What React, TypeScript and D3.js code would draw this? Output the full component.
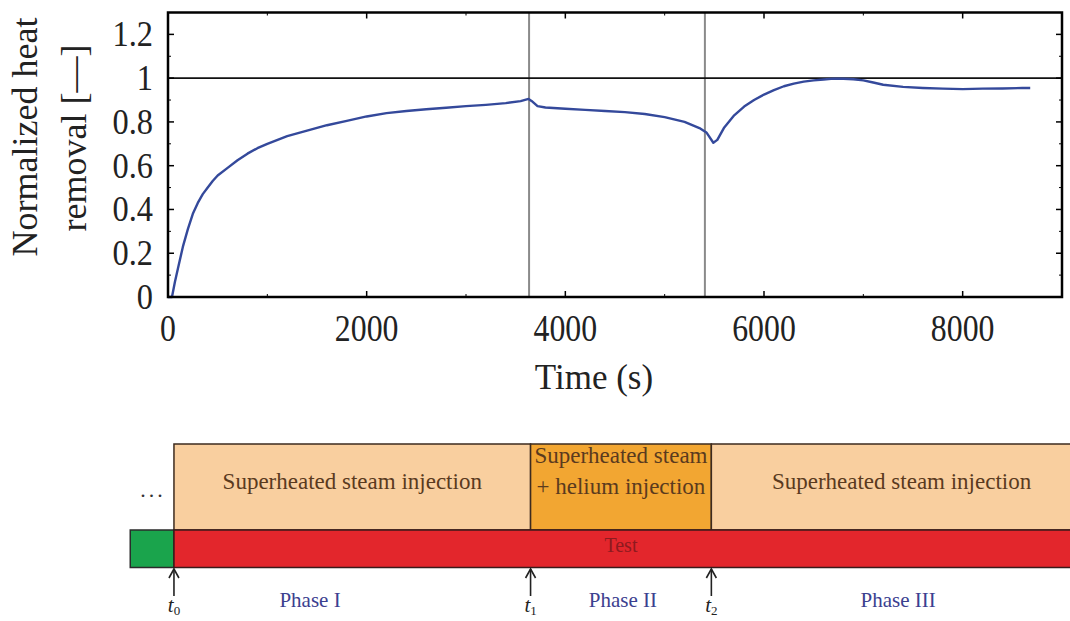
import React from 'react';
import * as d3 from 'd3';

const timeS = [
  0, 40, 70, 100, 150, 200, 250, 300, 350, 400, 450, 500, 600, 700, 800, 900, 1000,
  1200, 1400, 1600, 1800, 2000, 2200, 2400, 2600, 2800, 3000, 3200, 3400, 3550, 3630,
  3660, 3720, 3800, 4000, 4200, 4400, 4600, 4800, 5000, 5200, 5350, 5420, 5490, 5530,
  5600, 5700, 5800, 5900, 6000, 6100, 6200, 6300, 6400, 6500, 6600, 6700, 6800, 6900,
  7000, 7100, 7200, 7400, 7600, 7800, 8000, 8200, 8400, 8600, 8680,
];
const heatRemoval = [
  0, 0, 0.07, 0.13, 0.23, 0.31, 0.38, 0.43, 0.47, 0.5, 0.53, 0.555, 0.59, 0.625, 0.655, 0.68, 0.7,
  0.735, 0.76, 0.785, 0.805, 0.825, 0.84, 0.85, 0.858, 0.865, 0.872, 0.878, 0.886, 0.895, 0.905,
  0.896, 0.872, 0.866, 0.86, 0.855, 0.85, 0.845, 0.836, 0.822, 0.8, 0.772, 0.752, 0.705, 0.718,
  0.775, 0.83, 0.87, 0.9, 0.925, 0.945, 0.963, 0.975, 0.984, 0.99, 0.994, 0.998, 0.997, 0.995,
  0.99, 0.98, 0.97, 0.96, 0.955, 0.952, 0.95, 0.952, 0.953, 0.955, 0.955,
];

const xTicks = [0, 2000, 4000, 6000, 8000];
const yTicks = [0, 0.2, 0.4, 0.6, 0.8, 1, 1.2];
const markerTimes = [3635, 5405];

// timeline below the chart
const preTestStart = -380;
const boundaryTimes = [60, 3650, 5470];
const timelineEnd = 9300;
const boundaryNames = ['0', '1', '2'];
const injectionLabels = [
  ['Superheated steam injection'],
  ['Superheated steam', '+ helium injection'],
  ['Superheated steam injection'],
];
const injectionColors = ['#f9cf9f', '#f2a632', '#f9cf9f'];
const phaseNames = ['Phase I', 'Phase II', 'Phase III'];
const phaseLabelTimes = [1430, 4580, 7350];

const serif = '"Liberation Serif", "Times New Roman", serif';

const App: React.FC = () => {
  const width = 1070;
  const height = 621;
  const m = { left: 168, right: 1062, top: 12.5, bottom: 297 };

  const x = d3.scaleLinear().domain([0, 9000]).range([m.left, m.right]);
  const y = d3.scaleLinear().domain([0, 1.3]).range([m.bottom, m.top]);

  const points = timeS.map((t, i) => [t, heatRemoval[i]] as [number, number]);
  const line = d3.line<[number, number]>().x(d => x(d[0])).y(d => y(d[1]));

  const xMinor = d3.range(0, 9001, 1000).filter(v => v % 2000 !== 0);
  const yMinor = d3.range(0, 13).map(v => v / 10).filter(v => Math.round(v * 10) % 2 !== 0);

  const boxTop = 444;
  const boxBottom = 530;
  const barBottom = 567.5;
  const segEdges = [...boundaryTimes, timelineEnd];

  return (
    <svg width={width} height={height} style={{ position: 'absolute', left: 0, top: 0, background: '#fff' }}>
      {/* gray event lines */}
      {markerTimes.map(t => (
        <line key={t} x1={x(t)} x2={x(t)} y1={m.top} y2={m.bottom} stroke="#8a8a8a" strokeWidth={2} />
      ))}
      {/* reference line at 1 */}
      <line x1={m.left} x2={m.right} y1={y(1)} y2={y(1)} stroke="#111" strokeWidth={1.6} />

      <path d={line(points) ?? ''} fill="none" stroke="#34499b" strokeWidth={2.4} strokeLinejoin="round" />

      {/* ticks, mirrored inward */}
      {xTicks.map(t => (
        <g key={'xt' + t}>
          <line x1={x(t)} x2={x(t)} y1={m.bottom} y2={m.bottom - 6} stroke="#000" strokeWidth={1.5} />
          <line x1={x(t)} x2={x(t)} y1={m.top} y2={m.top + 6} stroke="#000" strokeWidth={1.5} />
          <text transform={`translate(${x(t)},341) scale(0.86,1)`} textAnchor="middle" fontFamily={serif} fontSize={37} fill="#222">
            {t}
          </text>
        </g>
      ))}
      {xMinor.map(t => (
        <g key={'xm' + t}>
          <line x1={x(t)} x2={x(t)} y1={m.bottom} y2={m.bottom - 3} stroke="#000" strokeWidth={1} />
          <line x1={x(t)} x2={x(t)} y1={m.top} y2={m.top + 3} stroke="#000" strokeWidth={1} />
        </g>
      ))}
      {yTicks.map(v => (
        <g key={'yt' + v}>
          <line x1={m.left} x2={m.left + 6} y1={y(v)} y2={y(v)} stroke="#000" strokeWidth={1.5} />
          <line x1={m.right} x2={m.right - 6} y1={y(v)} y2={y(v)} stroke="#000" strokeWidth={1.5} />
          <text transform={`translate(153,${y(v) + 12}) scale(0.9,1)`} textAnchor="end" fontFamily={serif} fontSize={36} fill="#222">
            {d3.format('~g')(v)}
          </text>
        </g>
      ))}
      {yMinor.map(v => (
        <g key={'ym' + v}>
          <line x1={m.left} x2={m.left + 3} y1={y(v)} y2={y(v)} stroke="#000" strokeWidth={1} />
          <line x1={m.right} x2={m.right - 3} y1={y(v)} y2={y(v)} stroke="#000" strokeWidth={1} />
        </g>
      ))}

      <rect x={m.left} y={m.top} width={m.right - m.left} height={m.bottom - m.top} fill="none" stroke="#000" strokeWidth={2.5} />

      {/* axis titles */}
      <text transform="translate(37,137) rotate(-90)" textAnchor="middle" fontFamily={serif} fontSize={36} fill="#222">
        Normalized heat
      </text>
      <text transform="translate(86,138) rotate(-90)" textAnchor="middle" fontFamily={serif} fontSize={36} fill="#222">
        removal [—]
      </text>
      <text x={594} y={389} textAnchor="middle" fontFamily={serif} fontSize={35} fill="#222">
        Time (s)
      </text>

      {/* injection boxes */}
      {injectionLabels.map((lines, i) => {
        const x0 = x(segEdges[i]);
        const x1 = x(segEdges[i + 1]);
        const cx = (x0 + x1) / 2;
        return (
          <g key={'inj' + i}>
            <rect x={x0} y={boxTop} width={x1 - x0} height={boxBottom - boxTop} fill={injectionColors[i]} stroke="#3d2b1f" strokeWidth={1.5} />
            {lines.map((s, j) => (
              <text
                key={j}
                x={cx}
                y={lines.length === 1 ? 489 : 463 + j * 31}
                textAnchor="middle"
                fontFamily={serif}
                fontSize={23}
                fill="#5a3a1e"
              >
                {s}
              </text>
            ))}
          </g>
        );
      })}
      <text x={153} y={497} textAnchor="middle" fontFamily={serif} fontSize={22} fill="#333" letterSpacing={3}>
        ...
      </text>

      {/* test bar */}
      <rect x={x(preTestStart)} y={boxBottom} width={x(boundaryTimes[0]) - x(preTestStart)} height={barBottom - boxBottom} fill="#1aa44c" stroke="#2b2b2b" strokeWidth={1.5} />
      <rect x={x(boundaryTimes[0])} y={boxBottom} width={x(timelineEnd) - x(boundaryTimes[0])} height={barBottom - boxBottom} fill="#e3262c" stroke="#3b1a1a" strokeWidth={1.5} />
      <text x={(x(boundaryTimes[1]) + x(boundaryTimes[2])) / 2} y={552} textAnchor="middle" fontFamily={serif} fontSize={20} fill="#8e1a1f">
        Test
      </text>

      {/* boundary arrows */}
      {boundaryTimes.map((t, i) => {
        const bx = x(t);
        return (
          <g key={'arr' + i}>
            <line x1={bx} x2={bx} y1={596} y2={569} stroke="#222" strokeWidth={1.6} />
            <polyline points={`${bx - 5},${578} ${bx},${569} ${bx + 5},${578}`} fill="none" stroke="#222" strokeWidth={1.6} />
            <text x={bx} y={612} textAnchor="middle" fontFamily={serif} fontSize={21} fontStyle="italic" fill="#222">
              t<tspan fontSize={13} dy={3} fontStyle="normal">{boundaryNames[i]}</tspan>
            </text>
          </g>
        );
      })}
      {phaseNames.map((p, i) => (
        <text key={p} x={x(phaseLabelTimes[i])} y={607} textAnchor="middle" fontFamily={serif} fontSize={21} fill="#3b408f">
          {p}
        </text>
      ))}
    </svg>
  );
};

export default App;
